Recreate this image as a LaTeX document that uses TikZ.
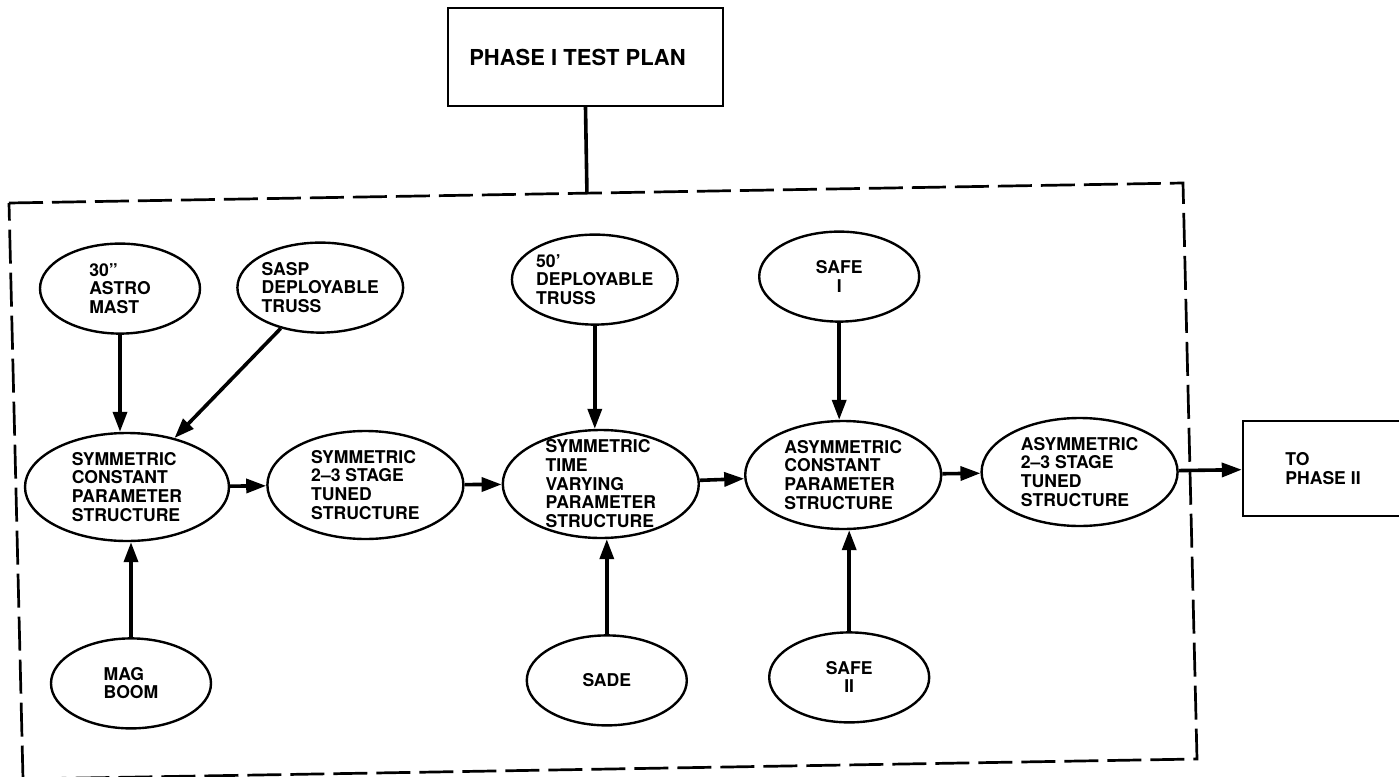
\documentclass[tikz,border=0pt]{standalone}
\usepackage{fontspec}
\setmainfont{TeX Gyre Heros}
\usepackage{tikz}
\usetikzlibrary{shapes.geometric, arrows.meta, positioning, calc}

% stacked lines that do not grow the oval around them
\newcommand{\stacktext}[2][l]{\raisebox{-3.5pt}[0pt][0pt]{\begin{tabular}{@{}#1@{}}#2\end{tabular}}}

\tikzset{
  stage/.style={ellipse, draw, line width=1.2pt, inner sep=0pt, font=\bfseries\fontsize{8.8}{9.35}\selectfont},
  article/.style={stage, minimum width=80pt, minimum height=45pt},
  config/.style={stage, minimum width=98pt, minimum height=54pt},
  panel/.style={rectangle, draw, line width=1.2pt, inner sep=0pt, font=\bfseries\fontsize{8.8}{9.35}\selectfont},
  flow/.style={-{Triangle[length=10pt,width=7pt]}, line width=1.8pt},
  planframe/.style={line width=1.35pt, dash pattern=on 17pt off 4.5pt},
}

\begin{document}
\begin{tikzpicture}[x=0.5pt, y=-0.5pt]
\useasboundingbox (0,0) rectangle (1399,777);

% Test configurations
\node[config, minimum width=102pt] (symcp) at (127,487) {\stacktext{SYMMETRIC\\CONSTANT\\PARAMETER\\STRUCTURE}};
\node[config, right=18pt of symcp, yshift=1pt] (sym23) {\stacktext{SYMMETRIC\\2--3 STAGE\\TUNED\\STRUCTURE}};
\node[config, right=18.5pt of sym23, yshift=0.5pt] (symtv) {\stacktext{SYMMETRIC\\TIME\\VARYING\\PARAMETER\\STRUCTURE}};
\node[config, right=22pt of symtv, yshift=4.5pt] (asymcp) {\stacktext{ASYMMETRIC\\CONSTANT\\PARAMETER\\STRUCTURE}};
\node[config, right=19pt of asymcp, yshift=1.5pt] (asym23) {\stacktext{ASYMMETRIC\\2--3 STAGE\\TUNED\\STRUCTURE}};
\node[panel, minimum width=80pt, minimum height=47.5pt, right=31.5pt of asym23, yshift=1.75pt] (phase2) {\stacktext{TO\\PHASE II}};

\draw[flow] (symcp) -- (sym23);
\draw[flow] (sym23) -- (symtv);
\draw[flow] (symtv) -- (asymcp);
\draw[flow] (asymcp) -- (asym23);
\draw[flow] (asym23) -- (phase2);

% Test articles feeding in from above
\node[article, above=48.5pt of symcp, xshift=-3.5pt] (astro) {\stacktext{30''\\ASTRO\\MAST}};
\node[article, right=17.5pt of astro, yshift=0.5pt] (sasp) {\stacktext{SASP\\DEPLOYABLE\\TRUSS}};
\node[article, above=51.5pt of symtv, xshift=-3pt] (truss) {\stacktext{50'\\DEPLOYABLE\\TRUSS}};
\node[article, above=48.5pt of asymcp, xshift=-2pt] (safe1) {\stacktext[c]{SAFE\\I}};

\draw[flow] (astro.south) -- (astro.south |- symcp.north);
\draw[flow] (sasp) -- (symcp);
\draw[flow] (truss.south) -- (truss.south |- symtv.north);
\draw[flow] (safe1.south) -- (safe1.south |- asymcp.north);

% ... and from below
\node[article, below=47.5pt of symcp, xshift=2pt] (mag) {\stacktext{MAG\\BOOM}};
\node[article, below=47.5pt of symtv, xshift=3pt] (sade) {\stacktext[c]{SADE}};
\node[article, below=50.5pt of asymcp, xshift=3pt] (safe2) {\stacktext[c]{SAFE\\II}};

\draw[flow] (mag.north) -- (mag.north |- symcp.south);
\draw[flow] (sade.north) -- (sade.north |- symtv.south);
\draw[flow] (safe2.north) -- (safe2.north |- asymcp.south);

% Plan box and dashed frame
\coordinate (tl) at (9,203);
\coordinate (tr) at (1183,183);
\coordinate (br) at (1197,759);
\coordinate (bl) at (23,779);
\draw[planframe] (tl) -- (tr) -- (br) -- (bl) -- cycle;

\node[panel, minimum width=137.5pt, minimum height=49pt, font=\bfseries\fontsize{11}{13}\selectfont] (plan) at (585.5,57) {\raisebox{-1.5pt}{PHASE I TEST PLAN}\hspace*{8pt}};
\coordinate (join) at ($(tl)!(plan.south)!(tr)$);
\draw[line width=1.8pt] (plan.south) -- (join);
\end{tikzpicture}
\end{document}
